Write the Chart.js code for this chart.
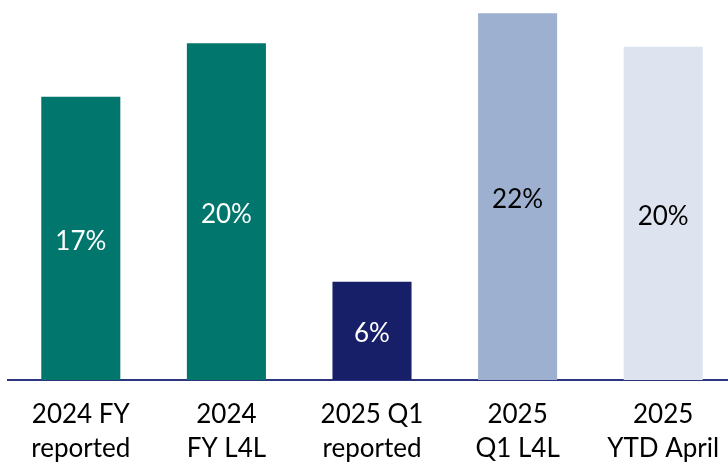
<!DOCTYPE html>
<html>
<head>
<meta charset="utf-8">
<script src="https://cdn.jsdelivr.net/npm/chart.js@4"></script>
<style>
  html, body { margin: 0; padding: 0; background: #fff; overflow: hidden; }
  #wrap { position: relative; width: 736px; height: 465px; }
</style>
</head>
<body>
<div id="wrap"><canvas id="barChart"></canvas></div>
<script>
// dados
const categories = [
    ['2024 FY', 'reported'],
    ['2024', 'FY L4L'],
    ['2025 Q1', 'reported'],
    ['2025', 'Q1 L4L'],
    ['2025', 'YTD April']
];
const values = [17.0, 20.2, 5.9, 22.0, 20.0];
const valueLabels = ['17%', '20%', '6%', '22%', '20%'];
const barColors = ['#00766c', '#00766c', '#161f68', '#9eb0cf', '#dee4ef'];
const labelColors = ['#ffffff', '#ffffff', '#ffffff', '#000000', '#000000'];

const FONT = 'Lato, "Open Sans", sans-serif';

// escreve o valor no meio de cada barra
const barLabels = {
    id: 'barLabels',
    afterDatasetsDraw(chart) {
        const ctx = chart.ctx;
        const meta = chart.getDatasetMeta(0);
        ctx.save();
        ctx.font = '26px ' + FONT;
        ctx.textAlign = 'center';
        ctx.textBaseline = 'middle';
        meta.data.forEach(function (bar, i) {
            ctx.fillStyle = labelColors[i];
            ctx.fillText(valueLabels[i], bar.x, (bar.y + bar.base) / 2 + 3);
        });
        ctx.restore();
    }
};

const ctx = document.getElementById('barChart').getContext('2d');
window._barChart = new Chart(ctx, {
    type: 'bar',
    data: {
        labels: categories,
        datasets: [{
            data: values,
            backgroundColor: barColors,
            borderWidth: 0,
            categoryPercentage: 1,
            barPercentage: 0.543
        }]
    },
    options: {
        responsive: true,
        maintainAspectRatio: false,
        animation: false,
        layout: { padding: { left: 8, right: 0, top: 5, bottom: 0 } },
        plugins: { legend: { display: false }, tooltip: { enabled: false } },
        scales: {
            x: {
                grid: { display: false },
                border: { display: true, color: '#2b3580', width: 2 },
                ticks: {
                    color: '#000',
                    font: { family: FONT, size: 26, lineHeight: 1.3 },
                    padding: 10,
                    maxRotation: 0,
                    autoSkip: false
                },
                afterFit: function (scale) { scale.height = 85; }
            },
            y: {
                display: false,
                min: 0,
                max: 22.5
            }
        }
    },
    plugins: [barLabels]
});
</script>
</body>
</html>
